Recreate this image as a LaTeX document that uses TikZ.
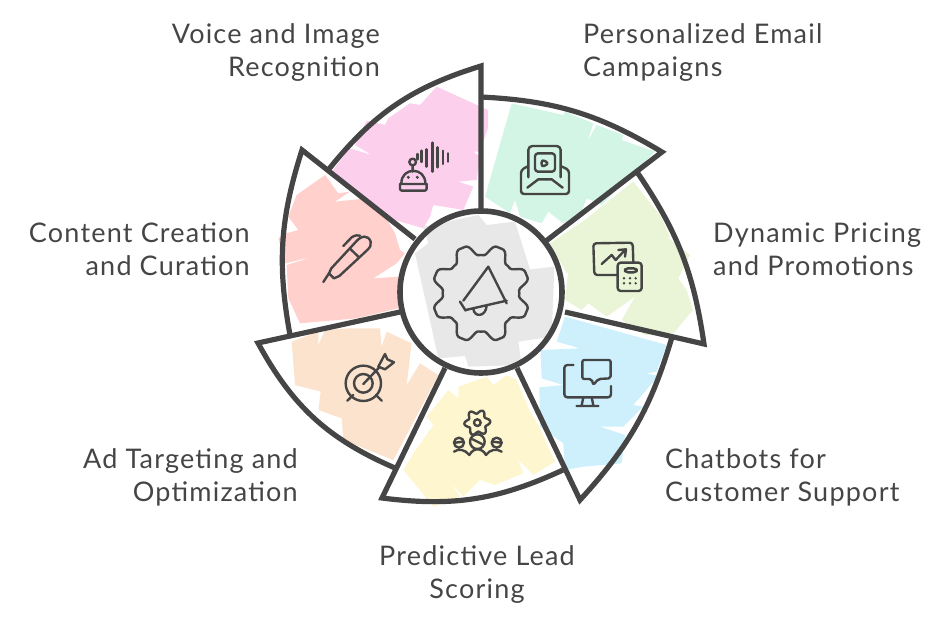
\documentclass[tikz,border=0pt]{standalone}
\usepackage{fontspec}
\setmainfont[LetterSpace=4.5]{Lato}
\definecolor{ink}{HTML}{454545}
\definecolor{cpink}{HTML}{FCD0EC}
\definecolor{cred}{HTML}{FFD0CC}
\definecolor{corange}{HTML}{FBE3CD}
\definecolor{cyellow}{HTML}{FDF6CF}
\definecolor{cblue}{HTML}{CDF0FC}
\definecolor{cgreen}{HTML}{E9F5D6}
\definecolor{cmint}{HTML}{D3F5E6}
\definecolor{cgrey}{HTML}{E8E8E8}
\tikzset{
  seg/.style={draw=ink,line width=5.2pt,line join=miter,line cap=butt,miter limit=10},
  ico/.style={draw=ink,line width=2.4pt,line join=round,line cap=round},
  lab/.style={text=ink,font=\fontsize{27}{33}\selectfont,inner sep=0pt}
}
\begin{document}
\begin{tikzpicture}[x=1pt,y=-1pt]
\useasboundingbox (0,0) rectangle (930,620);
% ---- fills
\begin{scope}[shift={(260,60)},scale=1/3]
\fill[cpink] (215,335)--(270,265)--(335,285)--(285,255)--(320,182)--(375,195)--(385,175)--(450,130)--(480,135)--(530,80)--(684,150)--(684,204)--(660,275)--(640,275)--(660,290)--(650,360)--(595,365)--(640,380)--(610,450)--(520,435)--(510,470)--(490,505)--(370,470)--cycle;
\fill[cred] (55,535)--(80,520)--(115,510)--(85,470)--(110,405)--(195,345)--(235,400)--(270,395)--(225,425)--(320,415)--(365,450)--(405,520)--(420,570)--(435,580)--(410,610)--(340,655)--(415,650)--(415,745)--(290,775)--(120,790)--(85,715)--(80,615)--(160,590)--(75,610)--cycle;
\end{scope}
\begin{scope}[shift={(250,320)},scale=1/3]
\fill[corange] (125,65)--(205,35)--(205,75)--(225,30)--(300,25)--(390,25)--(395,80)--(410,35)--(485,70)--(470,195)--(510,130)--(565,165)--(430,420)--(280,360)--(275,295)--(205,270)--(212,215)--(135,195)--cycle;
\end{scope}
\begin{scope}[shift={(380,310)},scale=1/3]
\fill[cyellow] (70,480)--(100,430)--(160,345)--(140,320)--(205,240)--(235,265)--(235,230)--(320,200)--(340,225)--(380,195)--(410,210)--(450,305)--(475,345)--(525,455)--(460,495)--(415,450)--(430,490)--(345,525)--(300,510)--(250,560)--(215,520)--(240,560)--(160,590)--cycle;
\fill[cblue] (555,20)--(860,105)--(830,185)--(800,190)--(835,198)--(760,285)--(790,290)--(730,350)--(660,350)--(735,375)--(725,460)--(610,470)--(555,480)--(550,400)--(480,350)--(478,232)--(550,225)--(485,205)--(482,120)--(600,115)--(530,95)--cycle;
\end{scope}
\begin{scope}[shift={(470,90)},scale=1/3]
\fill[cgreen] (240,460)--(345,390)--(400,345)--(490,275)--(545,345)--(570,375)--(600,440)--(520,490)--(590,440)--(660,495)--(625,565)--(650,600)--(669,660)--(610,730)--(525,735)--(455,690)--(495,620)--(410,680)--(355,640)--(335,660)--(285,630)--(295,540)--(330,515)--(290,550)--cycle;
\fill[cmint] (125,40)--(280,75)--(285,65)--(370,100)--(352,155)--(380,105)--(460,135)--(455,150)--(555,185)--(395,345)--(350,325)--(335,365)--(280,400)--(235,365)--(215,400)--(150,380)--(135,330)--(120,370)--(45,320)--cycle;
\end{scope}
% ---- centre disc
\fill[white] (481,292) circle[radius=81];
\begin{scope}[shift={(395,210)},scale=1/3]
\fill[cgrey] (60,130)--(100,100)--(85,50)--(250,15)--(275,45)--(360,35)--(405,178)--(478,170)--(470,380)--(370,395)--(380,465)--(220,470)--(210,438)--(130,445)--cycle;
\end{scope}
% ---- outlines
\draw[seg] (481,210)--(481,66) to[bend right=17] (329,169);
\draw[seg] (546,241)--(662,152) to[bend right=14] (481,97);
\draw[seg] (565,312)--(704,344) to[bend right=13] (637,172);
\draw[seg] (517,368)--(580,500) to[bend right=13] (672,337);
\draw[seg] (445,368)--(382,498) to[bend right=16] (563,470);
\draw[seg] (400,312)--(258,343) to[bend right=19] (395,468);
\draw[seg] (415,239)--(302,150) to[bend right=14] (290,335);
\draw[draw=ink,line width=5.6pt] (481,292) circle[radius=81];
% ---- icons
\begin{scope}[shift={(260,60)},scale=1/3]
% robot + sound wave
\draw[ico] (420,372)--(500,372) (424,370)..controls (424,320) and (496,320)..(496,370);
\draw[ico,rounded corners=2pt] (420,372)--(420,392)--(500,392)--(500,372);
\draw[ico] (458,306) circle[radius=10] (458,316)--(458,335);
\fill[ink] (445,352) circle[radius=5] (472,352) circle[radius=5];
\draw[ico] (472,282)--(472,298) (485,272)--(485,306) (500,268)--(500,320) (518,248)--(518,335) (533,262)--(533,322) (549,272)--(549,312) (564,280)--(564,305);
% pen
\draw[ico] (207,640)--(214,625)--(288,545)..controls (305,525) and (325,525)..(332,545)..controls (335,555) and (330,562)..(322,570)--(238,648)--(222,655)--cycle;
\draw[ico] (270,566)--(297,592) (250,558)--(275,532)..controls (285,525) and (295,525)..(300,527) (207,640)--(190,666);
\end{scope}
\begin{scope}[shift={(250,320)},scale=1/3]
\draw[ico] (340,190) circle[radius=53] (340,190) circle[radius=28];
\draw[ico] (340,192)--(388,142) (385,140)--(405,102)--(412,118)--(432,127)--(405,148)--cycle (292,242)--(310,225) (395,242)--(378,225);
\end{scope}
\begin{scope}[shift={(470,90)},scale=1/3]
% mail
\draw[ico,rounded corners=3pt] (175,228)--(153,240)--(153,312)--(297,312)--(297,240)--(272,228);
\draw[ico,rounded corners=4pt] (175,262)--(175,168)--(272,168)--(272,262);
\draw[ico,rounded corners=3pt] (195,190)--(255,190)--(255,245)--(195,245)--cycle (215,208)--(237,220)--(215,232)--cycle;
\draw[ico] (172,293)--(205,268)--(245,268)--(278,293);
% chart + calculator
\draw[ico,rounded corners=3pt] (440,555)--(373,555)--(370,460)--(488,458)--(490,515);
\draw[ico] (395,522)--(425,495)--(437,510)--(465,480) (445,480)--(468,478)--(465,500);
\draw[ico,rounded corners=3pt] (443,518)--(515,518)--(515,603)--(443,603)--cycle (465,535)--(500,535)--(500,547)--(465,547)--cycle;
\fill[ink] (462,565) circle[radius=4] (480,565) circle[radius=4] (497,565) circle[radius=4] (462,580) circle[radius=4] (480,580) circle[radius=4] (497,580) circle[radius=4];
\end{scope}
\begin{scope}[shift={(380,310)},scale=1/3]
% monitor
\draw[ico,rounded corners=3pt] (580,165)--(553,165)--(553,262)--(693,262)--(693,228);
\draw[ico] (610,262)--(605,286) (635,262)--(640,286) (590,288)--(655,288);
\draw[ico,rounded corners=2pt] (607,150)--(692,150)--(692,205)--(655,207)--(640,225)--(635,207)--(607,207)--cycle;
% team + gear
\draw[ico,smooth,samples=73,domain=0:360] plot ({292+(33+6*cos(6*\x+30))*cos(\x)},{338+(33+6*cos(6*\x+30))*sin(\x)});
\draw[ico] (292,338) circle[radius=10];
\draw[ico] (292,395) circle[radius=22] (278,388)--(306,402) (237,398) circle[radius=15] (350,398) circle[radius=15] (226,398)--(248,395) (339,395)--(361,398);
\draw[ico] (222,425)..controls (235,415) and (255,418)..(268,435)..controls (275,422) and (285,418)..(292,418)..controls (300,418) and (312,422)..(318,435)..controls (330,418) and (350,415)..(365,425);
\end{scope}
\begin{scope}[shift={(395,210)},scale=1/3]
% centre gear + megaphone
\draw[ico,smooth,samples=145,domain=0:360] plot ({258+(131+19*cos(8*\x-180)-3*cos(3*(8*\x-180)))*cos(\x)},{250+(131+19*cos(8*\x-180)-3*cos(3*(8*\x-180)))*sin(\x)});
\draw[ico] (280,170)--(335,280) (280,170)--(205,272) (195,275)--(212,302) (212,300)--(335,272) (235,297)..controls (238,322) and (272,322)..(275,287);
\end{scope}
% ---- labels
\node[lab,anchor=east,align=right] (voice) at (380,53) {Voice and Image\\Recognition};
\node[lab,anchor=west,align=left] (mail) at (583,53) {Personalized Email\\Campaigns};
\node[lab,anchor=west,align=left] (price) at (713,249) {Dynamic Pricing\\and Promotions};
\node[lab,anchor=east,align=right] (content) at (250,249) {Content Creation\\and Curation};
\node[lab,anchor=east,align=right] (ad) at (298,477) {Ad Targeting and\\Optimization};
\node[lab,anchor=west,align=left] (chat) at (665,477) {Chatbots for\\Customer Support};
\node[lab,align=center] (lead) at (477,575) {Predictive Lead\\Scoring};
\end{tikzpicture}
\end{document}
